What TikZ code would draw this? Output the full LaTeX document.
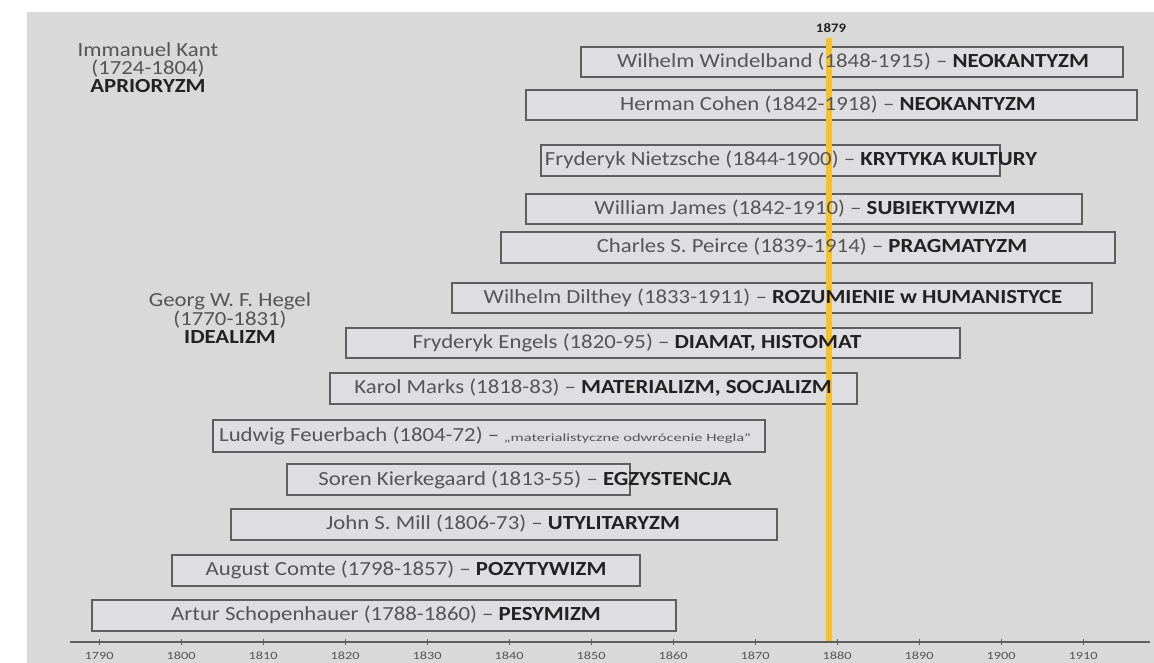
\documentclass[tikz,border=0pt]{standalone}
\usepackage{fontspec}
\setmainfont{Carlito}
\definecolor{bgc}{HTML}{D9D9D9}
\definecolor{boxfill}{HTML}{DEDEE0}
\definecolor{boxline}{HTML}{5E5E5E}
\definecolor{txtc}{HTML}{555555}
\definecolor{termc}{HTML}{222222}
\definecolor{goldc}{HTML}{F5C22C}
\newcommand\term[1]{{\bfseries\color{termc}#1}}
\newcommand\sx[1]{\scalebox{1.14}[1]{#1}}
\tikzset{
  pbox/.style={draw=boxline, fill=boxfill, line width=1.5pt, inner sep=0pt, outer sep=0pt, rectangle},
  ptext/.style={text=txtc, font=\fontsize{20}{22}\selectfont, inner sep=0pt, anchor=center},
  sidetext/.style={text=txtc, font=\fontsize{20}{18}\selectfont, align=center, inner sep=0pt},
  yrlab/.style={text=txtc, font=\fontsize{11}{12}\selectfont, inner sep=0pt},
  axisline/.style={draw=boxline, line width=1.2pt},
  goldline/.style={draw=goldc, line width=5.5pt}
}
\newcommand\tlbox[5]{\node[pbox, minimum width={#4-#2}, minimum height={#5-#3}] (#1) at ({(#2+#4)/2},{(#3+#5)/2}) {};}
\begin{document}
\begin{tikzpicture}[x=1pt,y=-1pt]
\useasboundingbox (0,0) rectangle (1154,663);
\fill[white] (0,0) rectangle (1154,663);
\fill[bgc] (27,12) rectangle (1154,663);

% boxes
\tlbox{bWin}{581}{47}{1123}{77}
\tlbox{bCoh}{526}{90}{1137}{120}
\tlbox{bNie}{541}{145}{1000}{176}
\tlbox{bJam}{526}{194}{1082}{224}
\tlbox{bPei}{501}{232}{1115}{263}
\tlbox{bDil}{452}{283}{1092}{313}
\tlbox{bEng}{346}{328}{960}{358}
\tlbox{bMar}{330}{373}{857}{404}
\tlbox{bFeu}{213}{420}{765}{452}
\tlbox{bKie}{287}{464}{630}{495}
\tlbox{bMil}{231}{509}{777}{540}
\tlbox{bCom}{172}{555}{640}{586}
\tlbox{bSch}{92}{600}{676}{631}

% 1879 line
\coordinate (ytop) at (829,38);
\coordinate (ybot) at (829,641);
\draw[goldline] (ytop) -- (ybot);
\node[text=termc, font=\bfseries\fontsize{13}{14}\selectfont, inner sep=0pt] (y1879) at (831,28) {\sx{1879}};

% texts
\node[ptext] (tWin) at (853,62) {\sx{Wilhelm Windelband (1848-1915) – \term{NEOKANTYZM}}};
\node[ptext] (tCoh) at (828,105) {\sx{Herman Cohen (1842-1918) – \term{NEOKANTYZM}}};
\node[ptext] (tNie) at (791,160) {\sx{Fryderyk Nietzsche (1844-1900) – \term{KRYTYKA KULTURY}}};
\node[ptext] (tJam) at (805,209) {\sx{William James (1842-1910) – \term{SUBIEKTYWIZM}}};
\node[ptext] (tPei) at (812,247) {\sx{Charles S. Peirce (1839-1914) – \term{PRAGMATYZM}}};
\node[ptext] (tDil) at (773,298) {\sx{Wilhelm Dilthey (1833-1911) – \term{ROZUMIENIE w HUMANISTYCE}}};
\node[ptext] (tEng) at (637,343) {\sx{Fryderyk Engels (1820-95) – \term{DIAMAT, HISTOMAT}}};
\node[ptext] (tMar) at (593,388) {\sx{Karol Marks (1818-83) – \term{MATERIALIZM, SOCJALIZM}}};
\node[ptext, anchor=west] (tFeu) at (219,436) {\sx{Ludwig Feuerbach (1804-72) –} {\fontsize{11}{12}\selectfont\scalebox{1.5}[1]{„materialistyczne odwrócenie Hegla”}}};
\node[ptext] (tKie) at (525,480) {\sx{Soren Kierkegaard (1813-55) – \term{EGZYSTENCJA}}};
\node[ptext] (tMil) at (503,524) {\sx{John S. Mill (1806-73) – \term{UTYLITARYZM}}};
\node[ptext] (tCom) at (406,570) {\sx{August Comte (1798-1857) – \term{POZYTYWIZM}}};
\node[ptext] (tSch) at (386,615) {\sx{Artur Schopenhauer (1788-1860) – \term{PESYMIZM}}};

% side labels
\node[sidetext] (kant) at (148,68) {\sx{Immanuel Kant}\\\sx{(1724-1804)}\\\sx{\term{APRIORYZM}}};
\node[sidetext] (hegel) at (230,318) {\sx{Georg W. F. Hegel}\\\sx{(1770-1831)}\\\sx{\term{IDEALIZM}}};

% axis
\coordinate (axl) at (70,642);
\coordinate (axr) at (1150,642);
\draw[axisline] (axl) -- (axr);
\foreach \yr [count=\i from 0] in {1790,1800,1810,1820,1830,1840,1850,1860,1870,1880,1890,1900,1910} {
  \coordinate (tk\i) at ({99+82*\i},642);
  \draw[boxline, line width=0.8pt] ([yshift=3pt]tk\i) -- ([yshift=-3pt]tk\i);
  \node[yrlab] (lab\i) at ({99+82*\i},656) {\scalebox{1.3}[1]{\yr}};
}
\end{tikzpicture}
\end{document}
